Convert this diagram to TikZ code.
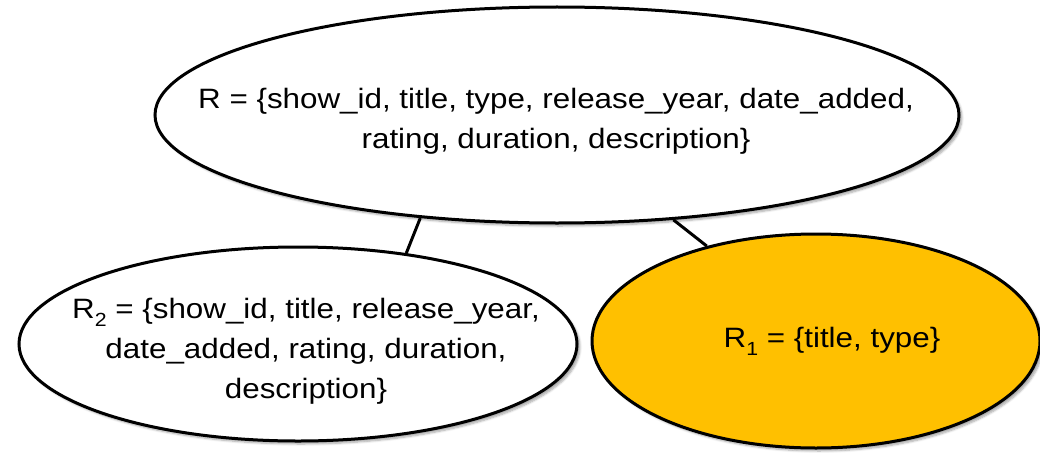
\documentclass[tikz,border=0pt]{standalone}
\usepackage{fontspec}
\setmainfont{Liberation Sans}
\usetikzlibrary{shapes.geometric,shadows.blur}
\definecolor{gold}{HTML}{FFC000}
\newcommand{\subidx}[1]{\raisebox{-8pt}{\fontsize{19}{19}\selectfont #1}}
\newcommand{\relines}[1]{\scalebox{1.12}[1]{\begin{tabular}[t]{@{}c@{}}#1\end{tabular}}}
\begin{document}
\begin{tikzpicture}[x=1pt,y=-1pt,
  relbox/.style={ellipse, draw=black, line width=3pt, inner sep=0pt,
    blur shadow={shadow xshift=3pt, shadow yshift=-3pt, shadow blur steps=6, shadow opacity=35}},
  reltext/.style={anchor=base, inner sep=0pt, font=\fontsize{28}{40}\selectfont},
  link/.style={draw=black, line width=3pt}]
\useasboundingbox (0,0) rectangle (1040,452);
\node[relbox, fill=white, minimum width=804pt, minimum height=216pt] (R) at (557,115) {};
\node[relbox, fill=white, minimum width=558pt, minimum height=194pt] (R2) at (298,344) {};
\node[relbox, fill=gold, minimum width=448pt, minimum height=214pt] (R1) at (816,341) {};
\node[reltext] (Rt) at (556,108)
  {\relines{R = \{show\_id, title, type, release\_year, date\_added,\\ rating, duration, description\}}};
\node[reltext] (R2t) at (306,318)
  {\relines{R\subidx{2} = \{show\_id, title, release\_year,\\ date\_added, rating, duration,\\ description\}}};
\node[reltext] (R1t) at (832,347)
  {\relines{R\subidx{1} = \{title, type\}}};
\draw[link] (R.217) -- (R2.40);
\draw[link] (R.318) -- (R1.139);
\end{tikzpicture}
\end{document}
